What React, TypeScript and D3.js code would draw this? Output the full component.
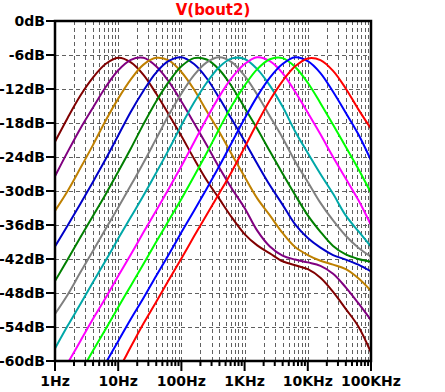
import React, { useRef, useEffect } from 'react';
import * as d3 from 'd3';

// Bode magnitude of an octave filter bank (LTspice-style plot).
// Frequencies sampled every 0.2 decade; one dB array per trace.

const WIDTH = 445;
const HEIGHT = 392;
const LEFT = 55;
const RIGHT = 371;
const TOP = 21;
const BOTTOM = 361;

const TITLE = 'V(bout2)';

const FREQS = [
  1, 1.585, 2.512, 3.981, 6.31, 10, 15.85, 25.12, 39.81, 63.1, 100, 158.5, 251.2,
  398.1, 631, 1000, 1585, 2512, 3981, 6310, 10000, 15850, 25120, 39810, 63100, 100000,
];

const DB_TICKS = [0, -6, -12, -18, -24, -30, -36, -42, -48, -54, -60];
const FREQ_TICKS = [1, 10, 100, 1000, 10000, 100000];
const FREQ_LABELS = ['1Hz', '10Hz', '100Hz', '1KHz', '10KHz', '100KHz'];

const MAROON = [-21.3, -17.1, -13.2, -10.0, -7.6, -6.5, -7.3, -9.5, -12.8, -16.5, -20.3, -24.3, -28.1, -31.4, -34.7, -37.6, -39.6, -41.0, -42.4, -43.1, -43.8, -45.3, -47.8, -50.8, -53.9, -58.5];
const PURPLE = [-27.4, -23.1, -19.0, -15.3, -11.7, -8.7, -6.85, -6.5, -8.0, -10.7, -14.2, -18.0, -21.9, -25.9, -29.6, -33.0, -37.0, -39.8, -41.4, -42.1, -42.6, -43.2, -44.6, -47.0, -49.8, -52.8];
const GOLD = [-33.5, -30.0, -26.0, -21.9, -17.6, -13.7, -10.3, -7.7, -6.5, -6.95, -9.0, -12.1, -15.9, -19.6, -23.6, -27.5, -31.3, -34.3, -37.4, -39.9, -41.3, -42.3, -43.0, -43.8, -45.4, -47.6];
const NAVY = [-39.8, -36.1, -32.3, -28.4, -24.4, -20.2, -16.0, -12.3, -9.1, -7.05, -6.4, -7.6, -10.1, -13.6, -17.4, -21.2, -25.2, -29.0, -32.4, -35.9, -38.3, -40.0, -41.3, -42.1, -43.0, -44.2];
const GREEN = [-45.9, -42.1, -38.2, -34.4, -30.6, -26.6, -22.5, -18.2, -14.2, -10.75, -8.0, -6.55, -6.8, -8.6, -11.6, -15.3, -19.0, -23.0, -26.9, -30.7, -34.3, -37.2, -39.7, -41.2, -42.0, -42.5];
const GRAY = [-51.7, -48.3, -44.4, -40.6, -36.7, -32.9, -29.0, -25.0, -20.8, -16.6, -12.8, -9.55, -7.3, -6.4, -7.3, -9.7, -13.0, -16.8, -20.6, -24.8, -28.4, -32.1, -35.2, -37.9, -40.0, -41.6];
const TEAL = [-57.8, -53.8, -50.0, -46.1, -42.3, -38.4, -34.6, -30.8, -26.8, -22.7, -18.4, -14.4, -10.9, -8.1, -6.6, -6.7, -8.5, -11.4, -15.1, -19.5, -23.3, -27.0, -30.5, -34.3, -37.1, -39.8];
const MAGENTA = [-64.2, -60.4, -56.5, -52.6, -48.9, -45.0, -41.2, -37.3, -33.5, -29.6, -25.6, -21.4, -17.2, -13.3, -10.0, -7.6, -6.4, -7.1, -9.2, -12.5, -16.2, -20.0, -24.0, -27.8, -31.6, -36.0];
const LIME = [-70, -66, -62.1, -58.2, -54.4, -50.5, -46.7, -42.9, -39.0, -35.2, -31.4, -27.4, -23.3, -19.0, -14.9, -11.4, -8.5, -6.75, -6.55, -8.1, -10.9, -14.5, -18.3, -22.2, -26.1, -30.3];
const BLUE = [-76, -72.2, -68.2, -64.2, -60.4, -56.5, -52.6, -48.9, -45.0, -41.2, -37.3, -33.5, -29.6, -25.6, -21.4, -17.2, -13.3, -10.0, -7.6, -6.4, -7.1, -9.2, -12.5, -16.2, -20.0, -24.6];
const RED = [-80, -77, -73, -69, -65, -61.6, -57.5, -53.4, -49.6, -45.7, -41.9, -38.0, -34.2, -30.4, -26.5, -22.3, -18.0, -14.0, -10.6, -8.0, -6.6, -6.9, -8.8, -11.9, -15.6, -19.0];

const SERIES = [MAROON, PURPLE, GOLD, NAVY, GREEN, GRAY, TEAL, MAGENTA, LIME, BLUE, RED];
const COLORS = ['#800000', '#800080', '#bf8000', '#0000c8', '#008000', '#808080', '#00a8a8', '#ff00ff', '#00ff00', '#0000ff', '#ff0000'];

const FONT = "'DejaVu Sans', Verdana, sans-serif";

export default function App() {
  const svgRef = useRef<SVGSVGElement>(null);

  useEffect(() => {
    const svg = d3.select(svgRef.current);
    svg.selectAll('*').remove();
    svg.append('rect').attr('width', WIDTH).attr('height', HEIGHT).attr('fill', 'white');

    const x = d3.scaleLog().domain([1, 100000]).range([LEFT, RIGHT]);
    const y = d3.scaleLinear().domain([0, -60]).range([TOP, BOTTOM]);

    // every 1..9 × decade inside the plot gets a dashed vertical line
    const minor: number[] = [];
    for (let k = 0; k < 5; k++) {
      for (let m = 1; m <= 9; m++) minor.push(m * 10 ** k);
    }
    minor.push(100000);

    const grid = svg.append('g').attr('stroke', '#606060').attr('stroke-width', 1).style('stroke-dasharray', '4, 3');
    grid
      .selectAll('line.v')
      .data(minor.filter((f) => f > 1 && f < 100000))
      .enter()
      .append('line')
      .attr('x1', (f) => Math.round(x(f)) + 0.5)
      .attr('x2', (f) => Math.round(x(f)) + 0.5)
      .attr('y1', TOP)
      .attr('y2', BOTTOM);
    grid
      .selectAll('line.h')
      .data(DB_TICKS.filter((d) => d < 0 && d > -60))
      .enter()
      .append('line')
      .attr('x1', LEFT)
      .attr('x2', RIGHT)
      .attr('y1', (d) => Math.round(y(d)) + 0.5)
      .attr('y2', (d) => Math.round(y(d)) + 0.5);

    svg
      .append('clipPath')
      .attr('id', 'plot-clip')
      .append('rect')
      .attr('x', LEFT)
      .attr('y', TOP)
      .attr('width', RIGHT - LEFT)
      .attr('height', BOTTOM - TOP);

    const line = d3
      .line<number>()
      .x((_d, i) => x(FREQS[i]))
      .y((d) => y(d))
      .curve(d3.curveCatmullRom.alpha(0.5));

    svg
      .append('g')
      .attr('clip-path', 'url(#plot-clip)')
      .selectAll('path')
      .data(SERIES)
      .enter()
      .append('path')
      .attr('fill', 'none')
      .attr('stroke', (_d, i) => COLORS[i])
      .attr('stroke-width', 2)
      .attr('d', (d) => line(d));

    // frame
    svg
      .append('rect')
      .attr('x', LEFT)
      .attr('y', TOP)
      .attr('width', RIGHT - LEFT)
      .attr('height', BOTTOM - TOP)
      .attr('fill', 'none')
      .attr('stroke', 'black')
      .attr('stroke-width', 2.5);

    // left ticks + labels
    const yAxis = svg.append('g');
    yAxis
      .selectAll('line')
      .data(DB_TICKS)
      .enter()
      .append('line')
      .attr('x1', LEFT - 9)
      .attr('x2', LEFT)
      .attr('y1', (d) => y(d))
      .attr('y2', (d) => y(d))
      .attr('stroke', 'black')
      .attr('stroke-width', 2);
    yAxis
      .selectAll('text')
      .data(DB_TICKS)
      .enter()
      .append('text')
      .attr('x', LEFT - 10)
      .attr('y', (d) => y(d))
      .attr('dy', '0.36em')
      .attr('text-anchor', 'end')
      .attr('font-family', FONT)
      .attr('font-weight', 'bold')
      .attr('font-size', '14px')
      .attr('fill', 'black')
      .text((d) => `${d}dB`);

    // bottom ticks + labels
    const xAxis = svg.append('g');
    xAxis
      .selectAll('line')
      .data(minor)
      .enter()
      .append('line')
      .attr('x1', (f) => x(f))
      .attr('x2', (f) => x(f))
      .attr('y1', BOTTOM)
      .attr('y2', (f) => (FREQ_TICKS.includes(f) ? BOTTOM + 10 : BOTTOM + 5))
      .attr('stroke', 'black')
      .attr('stroke-width', 2);
    xAxis
      .selectAll('text')
      .data(FREQ_TICKS)
      .enter()
      .append('text')
      .attr('x', (f) => x(f))
      .attr('y', 386)
      .attr('text-anchor', 'middle')
      .attr('font-family', FONT)
      .attr('font-weight', 'bold')
      .attr('font-size', '14px')
      .attr('fill', 'black')
      .text((_f, i) => FREQ_LABELS[i]);

    svg
      .append('text')
      .attr('x', (LEFT + RIGHT) / 2)
      .attr('y', 15)
      .attr('text-anchor', 'middle')
      .attr('font-family', FONT)
      .attr('font-weight', 'bold')
      .attr('font-size', '15px')
      .attr('fill', '#ff0000')
      .text(TITLE);
  }, []);

  return (
    <svg
      ref={svgRef}
      width={WIDTH}
      height={HEIGHT}
      style={{ position: 'absolute', left: 0, top: 0, display: 'block' }}
    />
  );
}
